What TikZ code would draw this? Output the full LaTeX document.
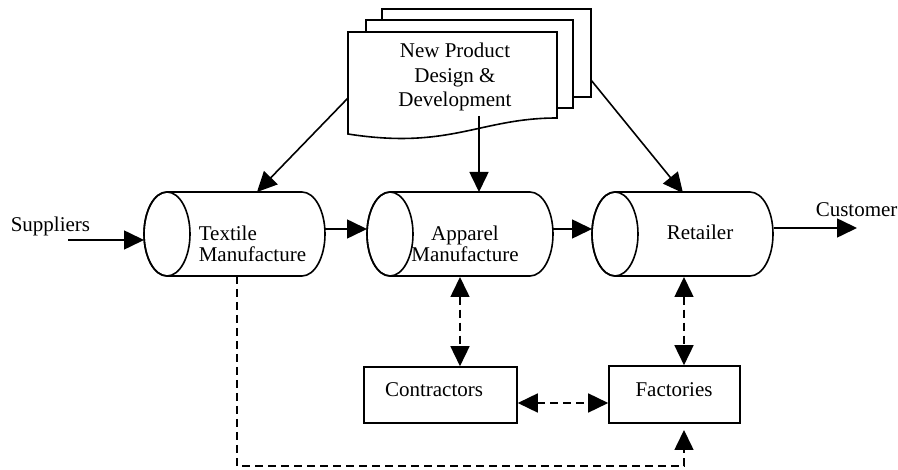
\documentclass[tikz,border=0pt]{standalone}
\usepackage{fontspec}
\setmainfont{Liberation Serif}
\usetikzlibrary{arrows.meta}
\begin{document}
\begin{tikzpicture}[x=1pt,y=-1pt,line width=1.6pt,
  lbl/.style={inner sep=0pt,font=\fontsize{21}{21}\selectfont},
  flow/.style={-{Triangle[length=20pt,width=19pt]}},
  link/.style={{Triangle[length=20pt,width=19pt]}-{Triangle[length=20pt,width=19pt]},dash pattern=on 8pt off 5pt},
  boxnode/.style={draw,fill=white,inner sep=0pt},
  sheet/.style={draw,fill=white}]
\useasboundingbox (0,0) rectangle (898,470);

% stacked document: two back sheets and the front sheet with a wavy foot
\draw[sheet] (382,9) rectangle (591,97);
\draw[sheet] (366,20) rectangle (573,108);
\draw[sheet] (348,32) -- (557,32) -- (557,118)
  .. controls (480,118) and (450,150) .. (348,134) -- cycle;
\node[lbl,align=center,font=\fontsize{21}{24.5}\selectfont] (npd) at (455,77)
  {New Product\\Design \&\\Development};
\coordinate (npdL) at (348,98);
\coordinate (npdM) at (479,116);
\coordinate (npdR) at (591,80);

% horizontal cylinders (y axis points down, so the arc angles run the other way)
\foreach \nm/\a/\b in {tex/167/302,app/390/530,ret/615/750}{
  \draw[fill=white] (\a,192) -- (\b,192)
    arc[start angle=-90,end angle=90,x radius=23,y radius=42]
    -- (\a,276)
    arc[start angle=90,end angle=270,x radius=23,y radius=42] -- cycle;
  \draw (\a,234) ellipse[x radius=23,y radius=42];
}
\node[lbl,align=left,anchor=west] (textile) at (198,244) {Textile\\Manufacture};
\node[lbl,align=center] (apparel) at (465,244) {Apparel\\Manufacture};
\node[lbl,anchor=base] (retailer) at (700,240) {Retailer};

% boxes
\node[boxnode,minimum width=153pt,minimum height=56pt] (contr) at (440.5,395) {};
\node[lbl,anchor=base] (contrtxt) at (434,397) {Contractors};
\node[boxnode,minimum width=131pt,minimum height=57pt] (fact) at (674.5,394.5) {};
\node[lbl,anchor=base] (facttxt) at (674,397) {Factories};

% outer labels
\node[lbl,anchor=base west] (supp) at (10,232) {Suppliers};
\node[lbl,anchor=base west] (cust) at (815,217) {Customer};

% anchor points on the cylinders
\coordinate (suppS) at (68,240);
\coordinate (texIn) at (144,240);
\coordinate (texOut) at (325,229);
\coordinate (appIn) at (367,229);
\coordinate (appOut) at (553,229);
\coordinate (retIn) at (592,229);
\coordinate (retOut) at (774,228);
\coordinate (custE) at (857,228);
\coordinate (texTop) at (257,192);
\coordinate (appTop) at (479,192);
\coordinate (retTop) at (683,193);
\coordinate (texBot) at (237,276);
\coordinate (appBot) at (460,277);
\coordinate (retBot) at (684,277);
\coordinate (corner1) at (237,466);
\coordinate (corner2) at (684,466);
\coordinate (factBot) at (684,430);

% solid flows
\draw[flow] (suppS) -- (texIn);
\draw[flow] (texOut) -- (appIn);
\draw[flow] (appOut) -- (retIn);
\draw[flow] (retOut) -- (custE);
\draw[flow] (npdL) -- (texTop);
\draw[flow] (npdM) -- (appTop);
\draw[flow] (npdR) -- (retTop);

% dashed links
\draw[link] (appBot) -- (appBot |- contr.north);
\draw[link] (retBot) -- (retBot |- fact.north);
\draw[link] (contr.east |- 0,403) -- (fact.west |- 0,403);
\draw[dash pattern=on 8pt off 5pt,-{Triangle[length=20pt,width=19pt]}]
  (texBot) -- (corner1) -- (corner2) -- (factBot);
\end{tikzpicture}
\end{document}
